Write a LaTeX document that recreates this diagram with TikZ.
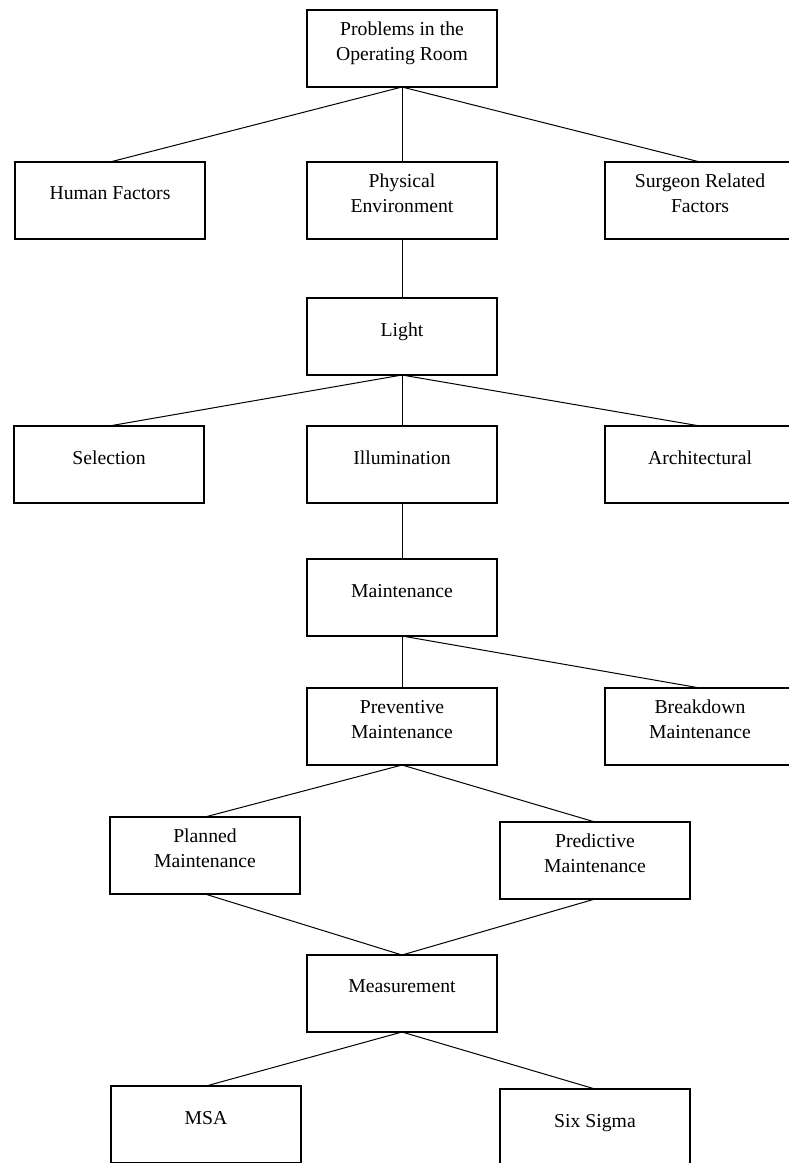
\documentclass[tikz,border=0pt]{standalone}
\usepackage{fontspec}
\setmainfont{Liberation Serif}
\usetikzlibrary{positioning}

\begin{document}
\begin{tikzpicture}[-,thin,node distance=1.5cm,
    box/.style={rectangle,draw,line width=1pt,outer sep=0pt,minimum width=95pt,minimum height=38.5pt,inner sep=2pt,align=center,
        font=\fontsize{9.85}{12.5}\selectfont,execute at end node={\rule[-7pt]{0pt}{7pt}}},
    link/.style={line width=0.5pt}]

            \useasboundingbox (0,0) rectangle (394pt,-581.5pt);

            \node[box] (problems) at (201pt,-24.25pt) {Problems in the\\Operating Room};
            \node[box] (physical) [below=37.5pt of problems] {Physical\\Environment};
            \node[box] (human) [left=51pt of physical] {Human Factors};
            \node[box] (surgeon) [right=54pt of physical] {Surgeon Related\\Factors};

            \node[box] (light) [below=29.5pt of physical] {Light};
            \node[box] (illum) [below=25.5pt of light] {Illumination};
            \node[box] (select) [left=51.5pt of illum] {Selection};
            \node[box] (arch) [right=54pt of illum] {Architectural};

            \node[box] (maint) [below=28pt of illum] {Maintenance};
            \node[box] (prevent) [below=26pt of maint] {Preventive\\Maintenance};
            \node[box] (breakdown) [right=54pt of prevent] {Breakdown\\Maintenance};

            \node[box] (planned) [below left=26pt and 3.5pt of prevent] {Planned\\Maintenance};
            \node[box] (predict) [below right=28.5pt and 1.5pt of prevent] {Predictive\\Maintenance};

            \node[box] (measure) [below=95pt of prevent] {Measurement};
            \node[box] (msa) [below left=27pt and 3pt of measure] {MSA};
            \node[box] (sixsigma) [below right=28.5pt and 1.5pt of measure] {Six Sigma};

            \draw[link] (problems.south) to (human.north);
            \draw[link] (problems.south) to (physical.north);
            \draw[link] (problems.south) to (surgeon.north);
            \draw[link] (physical.south) to (light.north);

            \draw[link] (light.south) to (select.north);
            \draw[link] (light.south) to (illum.north);
            \draw[link] (light.south) to (arch.north);
            \draw[link] (illum.south) to (maint.north);

            \draw[link] (maint.south) to (prevent.north);
            \draw[link] (maint.south) to (breakdown.north);

            \draw[link] (prevent.south) to (planned.north);
            \draw[link] (prevent.south) to (predict.north);
            \draw[link] (planned.south) to (measure.north);
            \draw[link] (predict.south) to (measure.north);

            \draw[link] (measure.south) to (msa.north);
            \draw[link] (measure.south) to (sixsigma.north);
        \end{tikzpicture}
\end{document}
